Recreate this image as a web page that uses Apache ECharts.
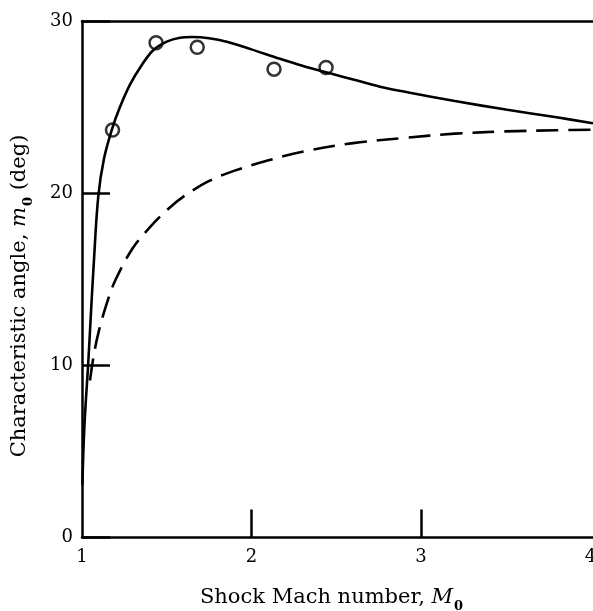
<!DOCTYPE html>
<html>
<head>
<meta charset="utf-8">
<script src="https://cdn.jsdelivr.net/npm/echarts@6/dist/echarts.min.js"></script>
<style>html,body{margin:0;padding:0;background:#fff}#c{width:593px;height:611px}</style>
</head>
<body>
<div id="c"></div>
<script>
// Theory (solid) curve: [Mach, angle]
const solidCurve = [
  [1.002, 3.0], [1.01, 5.5], [1.02, 7.5], [1.035, 9.8], [1.05, 12.5], [1.07, 16.0],
  [1.096, 19.8], [1.13, 22.0], [1.18, 23.8], [1.22, 24.9], [1.283, 26.3], [1.35, 27.4],
  [1.42, 28.3], [1.5, 28.8], [1.578, 29.03], [1.65, 29.07], [1.75, 29.0], [1.854, 28.8],
  [2.0, 28.35], [2.168, 27.8], [2.3, 27.4], [2.463, 26.96], [2.6, 26.6], [2.758, 26.18],
  [2.935, 25.83], [3.2, 25.35], [3.5, 24.85], [3.8, 24.4], [4.015, 24.05]
];
// Dashed curve
const dashedCurve = [
  [1.047, 9.1], [1.07, 10.6], [1.10, 12.0], [1.15, 13.7], [1.2, 15.0], [1.3, 16.8],
  [1.4, 18.0], [1.5, 19.0], [1.6, 19.8], [1.75, 20.7], [1.9, 21.3], [2.1, 21.9],
  [2.3, 22.4], [2.6, 22.9], [2.9, 23.2], [3.2, 23.45], [3.5, 23.58], [3.8, 23.65], [4.015, 23.68]
];
// Experimental points
const expPoints = [
  [1.18, 23.66], [1.437, 28.74], [1.68, 28.47], [2.133, 27.2], [2.44, 27.3]
];
const xTickMarks = [2, 3];

const serif = '"DejaVu Serif", "Liberation Serif", serif';
const chart = echarts.init(document.getElementById('c'));
const nameRich = {
  t: { fontFamily: serif, fontSize: 21, color: '#000', lineHeight: 26 },
  i: { fontFamily: serif, fontSize: 21, color: '#000', fontStyle: 'italic', lineHeight: 26 },
  s: { fontFamily: serif, fontSize: 13, color: '#000', fontWeight: 'bold', lineHeight: 26, verticalAlign: 'bottom', padding: [0, 0, -2, 1] }
};
chart.setOption({
  animation: false,
  backgroundColor: '#fff',
  grid: { left: 82, right: 0, top: 21, bottom: 74, outerBoundsMode: 'none', containLabel: false },
  xAxis: [{
    type: 'value', min: 1, max: 4.015, interval: 1,
    axisLine: { lineStyle: { color: '#000', width: 2.5 } },
    axisTick: { show: false },
    splitLine: { show: false },
    axisLabel: {
      color: '#000', fontFamily: serif, fontSize: 18, margin: 11,
      showMaxLabel: true,
      formatter: v => (Math.abs(v - Math.round(v)) < 1e-9 ? String(Math.round(v)) : '')
    },
    name: '{t|Shock Mach number, }{i|M}{s|0}',
    nameLocation: 'middle', nameGap: 48,
    nameTextStyle: { padding: [0, 12, 0, 0], rich: nameRich }
  }, {
    type: 'value', min: 1, max: 4.015, position: 'top',
    axisLine: { show: true, lineStyle: { color: '#000', width: 2.5 } },
    axisTick: { show: false }, axisLabel: { show: false }, splitLine: { show: false }
  }],
  yAxis: {
    type: 'value', min: 0, max: 30, interval: 10,
    axisLine: { show: true, lineStyle: { color: '#000', width: 2.5 } },
    axisTick: { show: true, inside: true, length: 28, lineStyle: { color: '#000', width: 2.5 } },
    splitLine: { show: false },
    axisLabel: { color: '#000', fontFamily: serif, fontSize: 18, margin: 9 },
    name: '{t|Characteristic angle, }{i|m}{s|0}{t| (deg)}',
    nameLocation: 'middle', nameGap: 49, nameRotate: 90,
    nameTextStyle: { padding: [0, 34, 0, 0], rich: nameRich }
  },
  series: [
    {
      type: 'line', data: solidCurve, smooth: 0.35, showSymbol: false, symbol: 'none',
      lineStyle: { color: '#000', width: 2.6 }, silent: true, clip: true,
      markLine: {
        silent: true, symbol: ['none', 'none'], label: { show: false },
        lineStyle: { color: '#000', width: 2.5, type: 'solid' },
        data: xTickMarks.map(x => [{ coord: [x, 0] }, { coord: [x, 1.6] }])
      }
    },
    {
      type: 'line', data: dashedCurve, smooth: 0.35, showSymbol: false, symbol: 'none',
      lineStyle: { color: '#000', width: 2.6, type: [22, 10] }, silent: true, clip: true
    },
    {
      type: 'scatter', data: expPoints, symbol: 'circle', symbolSize: 13,
      itemStyle: { color: '#fff', borderColor: '#000', borderWidth: 2.5 }, silent: true
    }
  ]
});
</script>
</body>
</html>
